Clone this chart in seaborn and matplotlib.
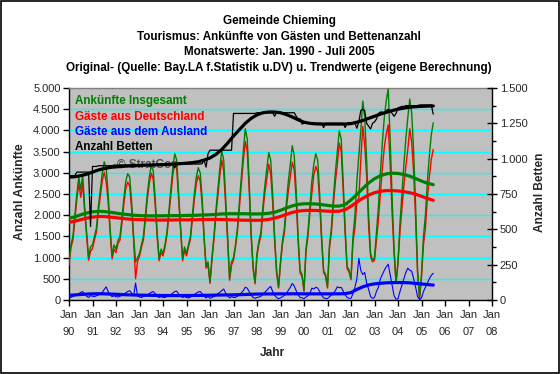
import numpy as np
import pandas as pd
import matplotlib
matplotlib.use("Agg")
import matplotlib.pyplot as plt
import matplotlib.ticker as mticker
from matplotlib.patches import Rectangle
import seaborn as sns

# ---------------- data (monthly, Jan 1990 .. Jul 2005) ----------------
gesamt = [
    900, 1300, 1500, 2000, 2500, 2900, 2600, 2950, 2200, 1600, 1000, 1250,
    1300, 1500, 1700, 2200, 2600, 3000, 3260, 3100, 2500, 1700, 1050, 1300,
    1200, 1400, 1500, 1900, 2400, 2800, 2980, 2900, 2300, 1500, 900, 1000,
    1100, 1300, 1500, 2000, 2500, 2900, 3170, 3050, 2400, 1600, 985, 1200,
    1100, 1300, 1600, 2100, 2600, 3100, 3450, 3300, 2500, 1700, 985, 1250,
    1100, 1300, 1500, 2000, 2500, 2900, 3120, 3000, 2400, 1500, 800, 900,
    430, 1000, 1500, 2100, 2600, 3100, 3520, 3300, 2400, 1500, 516, 900,
    1000, 1300, 1700, 2300, 2900, 3500, 4040, 3800, 2800, 1600, 800, 420,
    1100, 1400, 1600, 2200, 2700, 3100, 3480, 3300, 2500, 1500, 700, 312,
    900, 1400, 1700, 2300, 2800, 3200, 3640, 3400, 2600, 1500, 700, 600,
    235, 1200, 1600, 2200, 2800, 3200, 3450, 3300, 2500, 1500, 700, 600,
    312, 1300, 1700, 2400, 3000, 3500, 3990, 3800, 2800, 1700, 800, 700,
    516, 1500, 2000, 2800, 3400, 4000, 4694, 4300, 3300, 2000, 1100, 940,
    1000, 1600, 2200, 3000, 3700, 4300, 4700, 4976, 3800, 2400, 1200, 420,
    900, 1800, 2500, 3200, 3800, 4300, 4740, 4400, 3500, 2200, 700, 50,
    600, 1500, 2000, 2800, 3400, 3900, 4180,
]
deutschland = [
    820, 1240, 1410, 1900, 2380, 2750, 2420, 2750, 2070, 1510, 940, 1150,
    1210, 1420, 1600, 2080, 2450, 2820, 3010, 2790, 2300, 1580, 970, 1200,
    1120, 1330, 1410, 1790, 2260, 2630, 2780, 2680, 2140, 1400, 500, 910,
    1030, 1240, 1420, 1900, 2380, 2750, 2990, 2850, 2250, 1510, 925, 1120,
    1040, 1240, 1520, 2000, 2470, 2940, 3250, 3090, 2360, 1610, 925, 1170,
    1040, 1250, 1430, 1900, 2370, 2740, 2930, 2800, 2250, 1410, 750, 820,
    390, 940, 1420, 1990, 2450, 2920, 3300, 3040, 2240, 1400, 466, 820,
    940, 1240, 1610, 2180, 2730, 3280, 3740, 3520, 2600, 1490, 740, 380,
    1040, 1330, 1510, 2070, 2520, 2870, 3200, 2980, 2300, 1390, 640, 282,
    850, 1320, 1590, 2150, 2570, 2900, 3250, 3070, 2380, 1380, 640, 550,
    205, 1130, 1500, 2050, 2520, 2940, 3150, 3020, 2300, 1390, 650, 560,
    282, 1220, 1590, 2240, 2780, 3188, 3700, 3500, 2590, 1580, 740, 660,
    476, 1350, 1700, 2300, 2415, 3300, 4094, 3650, 2900, 1750, 1020, 900,
    940, 1400, 1900, 2500, 3100, 3600, 3920, 4131, 3200, 2050, 1100, 400,
    870, 1600, 2150, 2700, 3150, 3550, 4040, 3720, 3000, 1900, 620, 40,
    550, 1300, 1700, 2400, 2900, 3320, 3550,
]
ausland = [
    80, 60, 90, 100, 120, 150, 180, 200, 130, 90, 60, 100,
    90, 80, 100, 120, 150, 180, 250, 310, 200, 120, 80, 100,
    80, 70, 90, 110, 140, 170, 200, 220, 160, 100, 400, 90,
    70, 60, 80, 100, 120, 150, 180, 200, 150, 90, 60, 80,
    60, 60, 80, 100, 130, 160, 200, 210, 140, 90, 60, 80,
    60, 50, 70, 100, 130, 160, 190, 200, 150, 90, 50, 80,
    40, 60, 80, 110, 150, 180, 220, 260, 160, 100, 50, 80,
    60, 60, 90, 120, 170, 220, 300, 280, 200, 110, 60, 40,
    60, 70, 90, 130, 180, 230, 280, 320, 200, 110, 60, 30,
    50, 80, 110, 150, 230, 300, 390, 330, 220, 120, 60, 50,
    30, 70, 100, 150, 280, 260, 300, 280, 200, 110, 50, 40,
    30, 80, 110, 160, 220, 312, 290, 300, 210, 120, 60, 40,
    40, 150, 300, 500, 985, 700, 600, 650, 400, 250, 80, 40,
    60, 200, 300, 500, 600, 700, 780, 845, 600, 350, 100, 20,
    30, 200, 350, 500, 650, 750, 700, 680, 500, 300, 80, 10,
    50, 200, 300, 400, 500, 580, 630,
]
betten = [
    880, 880, 880, 880, 905, 905, 905, 905, 905, 905, 905, 520,
    945, 945, 945, 950, 950, 950, 950, 950, 950, 950, 950, 955,
    955, 955, 955, 955, 955, 955, 955, 955, 955, 955, 955, 955,
    958, 958, 958, 958, 958, 958, 958, 958, 958, 958, 958, 958,
    960, 960, 960, 960, 960, 960, 935, 960, 960, 960, 960, 960,
    962, 962, 962, 962, 962, 962, 962, 962, 965, 990, 940, 1035,
    1060, 1060, 1060, 1060, 1060, 1060, 1060, 1060, 1060, 1060, 1060, 1060,
    1320, 1320, 1320, 1320, 1320, 1320, 1320, 1320, 1320, 1320, 1320, 1320,
    1325, 1325, 1325, 1325, 1325, 1325, 1325, 1325, 1325, 1300, 1325, 1325,
    1325, 1325, 1325, 1325, 1325, 1325, 1325, 1325, 1300, 1282, 1282, 1245,
    1250, 1250, 1250, 1250, 1250, 1250, 1250, 1250, 1250, 1250, 1220, 1250,
    1250, 1250, 1250, 1250, 1250, 1250, 1250, 1250, 1250, 1220, 1250, 1255,
    1255, 1255, 1255, 1215, 1260, 1340, 1350, 1340, 1250, 1230, 1210, 1250,
    1260, 1280, 1320, 1330, 1330, 1320, 1340, 1350, 1335, 1320, 1300, 1320,
    1360, 1365, 1370, 1370, 1375, 1375, 1375, 1375, 1375, 1375, 1375, 1380,
    1380, 1380, 1380, 1380, 1380, 1380, 1315,
]

# trend values read every 3 months (month index 0, 3, ..., 186)
trend_month = list(range(0, 187, 3))
trend_gesamt = [
    1930, 1960, 2010, 2050, 2080, 2090, 2085, 2070, 2050, 2030, 2015, 2000,
    1990, 1985, 1985, 1985, 1985, 1990, 1990, 1990, 1995, 1995, 2000, 2005,
    2010, 2020, 2030, 2035, 2035, 2035, 2035, 2030, 2030, 2035, 2045, 2070,
    2115, 2170, 2220, 2255, 2270, 2270, 2265, 2250, 2230, 2215, 2215, 2250,
    2360, 2490, 2630, 2760, 2860, 2930, 2975, 2990, 2985, 2960, 2920, 2865,
    2805, 2755, 2720,
]
trend_deutschland = [
    1830, 1860, 1895, 1930, 1955, 1970, 1968, 1955, 1940, 1925, 1910, 1900,
    1895, 1890, 1888, 1885, 1885, 1885, 1888, 1890, 1890, 1892, 1895, 1898,
    1900, 1900, 1898, 1895, 1890, 1885, 1882, 1880, 1880, 1885, 1900, 1930,
    1970, 2020, 2065, 2095, 2110, 2115, 2112, 2105, 2095, 2090, 2095, 2130,
    2210, 2310, 2400, 2475, 2530, 2565, 2580, 2580, 2572, 2555, 2530, 2495,
    2445, 2395, 2350,
]
trend_ausland = [
    110, 120, 130, 140, 145, 148, 145, 140, 135, 128, 122, 118,
    115, 112, 110, 108, 106, 105, 105, 105, 106, 107, 108, 110,
    112, 115, 118, 120, 122, 125, 130, 135, 140, 142, 143, 144,
    145, 145, 146, 146, 145, 145, 145, 145, 145, 145, 146, 150,
    175, 250, 310, 355, 380, 395, 405, 410, 412, 410, 405, 392,
    378, 364, 352,
]
trend_betten = [
    870, 872, 880, 890, 905, 920, 930, 938, 942, 945, 948, 950,
    952, 954, 955, 957, 958, 960, 962, 965, 968, 972, 978, 990,
    1005, 1030, 1065, 1110, 1160, 1205, 1250, 1285, 1310, 1325, 1330, 1330,
    1325, 1312, 1295, 1275, 1258, 1250, 1246, 1245, 1245, 1245, 1245, 1245,
    1248, 1258, 1270, 1285, 1300, 1315, 1328, 1340, 1350, 1358, 1364, 1368,
    1370, 1372, 1373,
]

x_labels = ["Jan\n90", "Jan\n91", "Jan\n92", "Jan\n93", "Jan\n94", "Jan\n95",
            "Jan\n96", "Jan\n97", "Jan\n98", "Jan\n99", "Jan\n00", "Jan\n01",
            "Jan\n02", "Jan\n03", "Jan\n04", "Jan\n05", "Jan\n06", "Jan\n07",
            "Jan\n08"]
title_lines = ["Gemeinde Chieming",
               "Tourismus: Ankünfte von Gästen und Bettenanzahl",
               "Monatswerte: Jan. 1990 - Juli 2005",
               "Original- (Quelle: Bay.LA f.Statistik u.DV) u. Trendwerte (eigene Berechnung)"]
legend_entries = [("Ankünfte Insgesamt", "#008000"),
                  ("Gäste aus Deutschland", "#FF0000"),
                  ("Gäste aus dem Ausland", "#0000FF"),
                  ("Anzahl Betten", "#000000")]

# ---------------- styling ----------------
sns.set_theme(style="white")
plt.rcParams["font.family"] = ["Liberation Sans", "DejaVu Sans"]

W, H = 560, 374
fig = plt.figure(figsize=(W / 100, H / 100), dpi=100)
fig.patch.set_facecolor("white")
fig.patches.append(Rectangle((0.001, 0.002), 0.997, 0.995, transform=fig.transFigure,
                             fill=False, edgecolor="black", linewidth=1.2))

L, R, T, B = 69, 492, 88, 300
ax = fig.add_axes([L / W, 1 - B / H, (R - L) / W, (B - T) / H])
ax.set_facecolor("#C0C0C0")

monthly = pd.DataFrame({"m": np.arange(len(gesamt)), "gesamt": gesamt,
                        "deutschland": deutschland, "ausland": ausland,
                        "betten": betten})
trend = pd.DataFrame({"m": trend_month, "gesamt": trend_gesamt,
                      "deutschland": trend_deutschland, "ausland": trend_ausland,
                      "betten": trend_betten})

kw = dict(estimator=None, sort=False, legend=False)
sns.lineplot(data=monthly, x="m", y="deutschland", ax=ax, color="#FF0000", linewidth=1.0, zorder=3, **kw)
sns.lineplot(data=monthly, x="m", y="gesamt", ax=ax, color="#008000", linewidth=1.0, zorder=3, **kw)
sns.lineplot(data=monthly, x="m", y="ausland", ax=ax, color="#0000FF", linewidth=0.8, zorder=3, **kw)
sns.lineplot(data=trend, x="m", y="gesamt", ax=ax, color="#008000", linewidth=2.3, zorder=4, **kw)
sns.lineplot(data=trend, x="m", y="deutschland", ax=ax, color="#FF0000", linewidth=2.3, zorder=4, **kw)
sns.lineplot(data=trend, x="m", y="ausland", ax=ax, color="#0000FF", linewidth=2.3, zorder=4, **kw)

ax.set_xlim(0, 216)
ax.set_ylim(0, 5000)
ax.set_xticks(range(0, 217, 12))
ax.set_xticklabels(x_labels)
ax.set_xticks(range(12, 217, 24), minor=True)
ax.set_yticks(range(0, 5001, 500))
ax.yaxis.set_major_formatter(mticker.FuncFormatter(lambda v, p: f"{v:,.0f}".replace(",", ".")))
ax.grid(False)
ax.grid(True, which="minor", axis="x", color="#00FFFF", linewidth=1.0, zorder=1)
ax.grid(True, which="major", axis="y", color="#00FFFF", linewidth=1.0, zorder=1)
ax.set_axisbelow(True)
ax.tick_params(axis="x", which="major", direction="out", length=4, width=1, color="black",
               labelsize=8, pad=3, bottom=True)
ax.tick_params(axis="x", which="minor", length=0)
ax.tick_params(axis="y", which="major", direction="out", length=4, width=1, color="black",
               labelsize=8, pad=2, left=True)
for lab in ax.get_xticklabels():
    lab.set_linespacing(1.9)
ax.set_xlabel("")
ax.set_ylabel("")
for s in ["left", "bottom"]:
    ax.spines[s].set_color("black")
    ax.spines[s].set_linewidth(1.0)
ax.spines["top"].set_color("#808080")
ax.spines["top"].set_linewidth(1.0)
ax.spines["right"].set_visible(False)

ax2 = ax.twinx()
sns.lineplot(data=monthly, x="m", y="betten", ax=ax2, color="black", linewidth=0.9, zorder=3, **kw)
sns.lineplot(data=trend, x="m", y="betten", ax=ax2, color="black", linewidth=2.3, zorder=4, **kw)
ax2.set_ylim(0, 1500)
ax2.set_xlim(0, 216)
ax2.set_yticks(range(0, 1501, 250))
ax2.set_yticks(range(125, 1501, 250), minor=True)
ax2.yaxis.set_major_formatter(mticker.FuncFormatter(lambda v, p: f"{v:,.0f}".replace(",", ".")))
ax2.tick_params(axis="y", which="major", direction="inout", length=7, width=1, color="black",
                labelsize=8, pad=2, right=True)
ax2.tick_params(axis="y", which="minor", direction="out", length=3, width=1, color="black", right=True)
ax2.grid(False)
ax2.set_ylabel("")
ax2.set_xlabel("")
ax2.spines["right"].set_color("black")
ax2.spines["right"].set_linewidth(1.0)
for s in ["left", "top", "bottom"]:
    ax2.spines[s].set_visible(False)

# copyright text (behind the lines)
ax.text(0.113, 0.625, "© StratCon", transform=ax.transAxes, fontsize=8.5,
        fontweight="bold", color="#505050", zorder=2)

# titles
for i, t in enumerate(title_lines):
    fig.text(279 / W, 1 - (21 + 15.5 * i) / H, t, ha="center", va="center",
             fontsize=8.4, fontweight="bold", color="black")

# in-plot legend text
for i, (t, c) in enumerate(legend_entries):
    fig.text(75 / W, 1 - (101 + 15.5 * i) / H, t, ha="left", va="center",
             fontsize=8.4, fontweight="bold", color=c, zorder=10)

fig.text(20 / W, 1 - 192 / H, "Anzahl Ankünfte", rotation=90, ha="center", va="center",
         fontsize=8.8, fontweight="bold")
fig.text(540 / W, 1 - 192 / H, "Anzahl Betten", rotation=90, ha="center", va="center",
         fontsize=8.6, fontweight="bold")
fig.text(272 / W, 1 - 353 / H, "Jahr", ha="center", va="center", fontsize=8.6, fontweight="bold")

fig.savefig("out.png", dpi=100, facecolor="white")
